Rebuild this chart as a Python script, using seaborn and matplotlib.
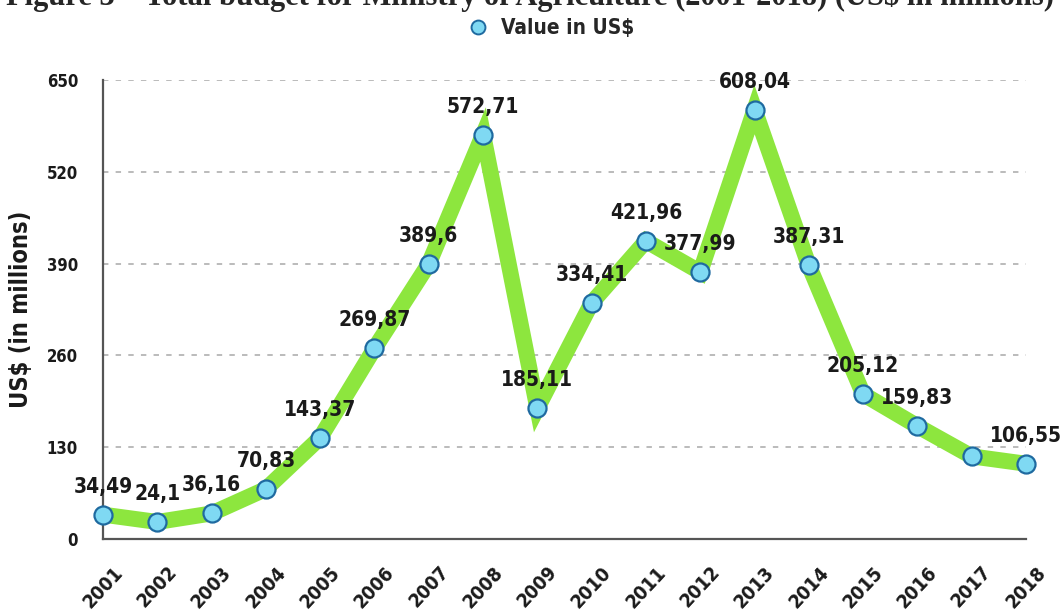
import pandas as pd
import numpy as np
import seaborn as sns
import matplotlib.pyplot as plt
from matplotlib.lines import Line2D

years = list(range(2001, 2019))
values = [34.49, 24.1, 36.16, 70.83, 143.37, 269.87, 389.6, 572.71, 185.11,
          334.41, 421.96, 377.99, 608.04, 387.31, 205.12, 159.83, 117.0, 106.55]
labels = ["34,49", "24,1", "36,16", "70,83", "143,37", "269,87", "389,6", "572,71", "185,11",
          "334,41", "421,96", "377,99", "608,04", "387,31", "205,12", "159,83", "", "106,55"]
yticks = [0, 130, 260, 390, 520, 650]

df = pd.DataFrame({"year": years, "value": values})

sns.set_style("white")
plt.rcParams['font.family'] = ['DejaVu Sans']
plt.rcParams['font.stretch'] = 'condensed'

fig = plt.figure(figsize=(10.61, 6.15), dpi=100)
ax = fig.add_axes([0.0971, 0.1236, 0.8699, 0.7464])

sns.lineplot(data=df, x="year", y="value", ax=ax, color="#8de63e", linewidth=11.5,
             solid_joinstyle="miter", zorder=3)
ax.plot(df["year"], df["value"], linestyle="none", marker="o", markersize=13,
        markerfacecolor="#7fd9f3", markeredgecolor="#1f6aa0", markeredgewidth=1.6,
        zorder=4, clip_on=False)
ax.lines[0].set_clip_on(False)

for x, y, t in zip(years, values, labels):
    if t:
        ax.annotate(t, (x, y), xytext=(0, 28), textcoords="offset pixels",
                    ha="center", va="center", fontsize=15, fontweight="bold",
                    fontstretch="condensed", color="#1a1a1a", zorder=5)

ax.set_xlim(2001, 2018)
ax.set_ylim(0, 650)
ax.set_xticks(years)
ax.set_xticklabels([str(y) for y in years], rotation=47, ha="center", va="top",
                   fontsize=14, fontweight="bold", fontstretch="condensed", color="#1a1a1a")
ax.set_yticks(yticks)
ax.set_yticklabels([str(v) for v in yticks], fontsize=12, fontweight="bold",
                   fontstretch="condensed", color="#1a1a1a")
ax.tick_params(axis="y", direction="inout", length=8, width=1.3, color="#444444", pad=14)
ax.tick_params(axis="x", length=0, pad=17)

for y in yticks[1:]:
    ax.axhline(y, color="#b5b5b5", linestyle=(0, (3, 4)), linewidth=1.3, zorder=1)

sns.despine(ax=ax, top=True, right=True)
for s in ["left", "bottom"]:
    ax.spines[s].set_color("#555555")
    ax.spines[s].set_linewidth(1.6)

ax.set_xlabel("")
ax.set_ylabel("US$ (in millions)", fontsize=17, fontweight="bold", fontstretch="condensed",
              color="#1a1a1a")
ax.yaxis.set_label_coords(-0.076, 0.5)

handle = Line2D([], [], linestyle="none", marker="o", markersize=10,
                markerfacecolor="#7fd9f3", markeredgecolor="#1f6aa0", markeredgewidth=1.4)
fig.legend([handle], ["Value in US$"], loc="center", bbox_to_anchor=(0.518, 0.954),
           frameon=False, prop={"size": 15, "weight": "bold", "stretch": "condensed"},
           handletextpad=0.5, handlelength=1.2)

fig.text(0.5, 0.992, "Figure 3 \u2013 Total budget for Ministry of Agriculture (2001-2018) (US$ in millions)",
         ha="center", va="baseline", fontsize=22, fontweight="bold", family="Liberation Serif")

fig.savefig("out.png", dpi=100)
